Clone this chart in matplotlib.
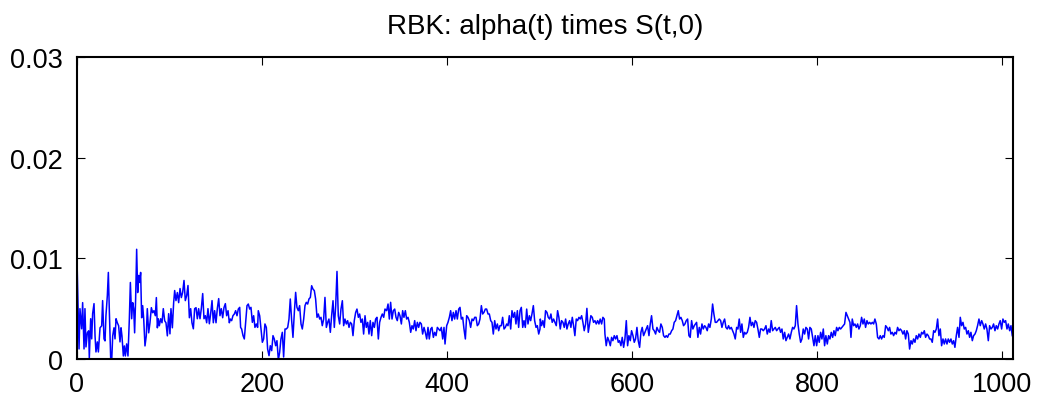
import numpy as np
import matplotlib
matplotlib.use("Agg")
import matplotlib.pyplot as plt

plt.rcParams['font.family'] = ['Liberation Sans', 'DejaVu Sans']

title = "RBK: alpha(t) times S(t,0)"
xticks = [0, 200, 400, 600, 800, 1000]
yticks = [0, 0.01, 0.02, 0.03]
ytick_labels = ["0", "0.01", "0.02", "0.03"]

# sample time (t) and value in units of 1e-3
t_seg1 = [0, 2.2, 3.2, 5.0, 6.1, 7.6, 8.6, 9.7, 11.2, 12.6, 13.3, 14.8, 15.9, 16.9, 18.4, 19.5, 20.5, 22.0, 23.1, 24.9,
          26.7, 27.7, 29.2, 30.3, 31.3, 32.8, 33.9, 34.9, 36.4, 37.5, 38.6, 40.0, 41.1, 42.2, 43.6, 45.0, 46.5, 47.6, 48.6, 50.1,
          51.2, 52.3, 53.7, 55.1, 56.6, 57.7, 59.1, 60.2, 61.3, 62.3, 63.4, 64.5, 65.6, 66.7, 67.8, 68.8, 69.9, 71.0, 72.1, 73.5,
          74.9, 76.0, 77.5, 78.9, 80.4, 81.8, 83.2, 84.7, 85.8, 86.9, 87.9, 89.0, 90.5, 91.9, 93.3, 94.8, 96.2, 97.7, 99.1, 100.5,
          101.6, 103.1, 104.5, 105.6, 107.0, 108.5, 109.9, 111.4, 112.8, 114.2, 115.7, 117.1, 118.6, 120.0, 121.5, 122.9, 124.3, 125.8, 127.2, 128.7,
          130.1, 131.5, 133.0, 134.4, 135.9, 137.3, 138.8, 140.2, 141.6, 143.1, 144.5, 146.0, 147.4, 148.8, 150.3, 151.7, 153.2, 154.6, 156.0, 157.5,
          158.9, 160.4, 161.8, 163.3, 164.7]
v_seg1 = [9.9, 1.0, 5.0, 3.0, 5.6, 1.0, 5.0, 1.2, 2.6, 2.8, 0.1, 4.0, 2.0, 4.5, 5.5, 2.3, 0.7, 1.7, 0.7, 3.1,
          3.3, 5.8, 2.0, 1.8, 4.3, 6.3, 8.6, 5.0, 0.1, -0.2, 2.3, 3.1, 2.0, 4.0, 3.6, 3.3, 1.7, 3.1, 2.3, 0.3,
          1.3, 0.3, 1.5, 0.3, 4.0, 7.6, 4.0, 5.6, 5.0, 2.6, 6.0, 10.9, 6.6, 8.3, 7.6, 8.6, 4.1, 5.3, 4.0, 1.3,
          2.3, 5.0, 2.6, 3.6, 5.1, 4.6, 4.8, 4.3, 6.1, 3.1, 4.0, 3.3, 4.0, 3.6, 5.0, 3.8, 3.6, 2.3, 4.5, 2.5,
          5.0, 3.1, 5.6, 6.8, 5.8, 6.6, 5.6, 7.0, 6.1, 6.6, 7.8, 5.8, 6.3, 7.3, 4.1, 5.0, 3.6, 3.0, 5.0, 5.1,
          4.0, 5.0, 4.0, 5.0, 6.5, 4.0, 4.3, 3.6, 5.0, 3.5, 4.5, 5.8, 3.6, 4.8, 3.6, 5.0, 6.0, 4.3, 5.0, 4.1,
          5.1, 5.5, 4.3, 4.8, 3.6]

t_seg2 = [165.8, 167.2, 168.6, 170.1, 171.5, 173.0, 174.4, 175.9, 176.9, 178.0, 179.5, 180.9, 182.3, 183.8, 185.2, 186.7, 188.1, 189.6, 191.0, 192.4,
          193.9, 195.3, 196.0, 197.5, 198.9, 200.4, 201.8, 203.2, 204.7, 206.1, 207.6, 209.0, 210.5, 211.9, 213.3, 214.8, 216.2, 217.7, 219.1, 220.5,
          222.0, 223.4, 224.9, 226.3, 227.8, 229.2, 230.6, 232.1, 233.5, 235.0, 236.4, 237.8, 239.3, 240.7, 242.2, 243.6, 245.1, 246.5, 247.9, 249.4,
          250.8, 252.3, 253.7, 255.1, 256.6, 258.0, 259.5, 260.9, 262.4, 263.8, 265.2, 266.7, 268.1, 269.6, 271.0, 272.4, 273.9, 275.3, 276.8, 278.2,
          279.7, 281.1, 282.5, 284.0, 285.4, 286.9, 288.3, 289.7, 291.2, 292.6, 294.1, 295.5, 297.0, 298.4, 299.8, 301.3, 302.7, 304.2, 305.6, 307.0,
          308.5, 309.9, 311.4, 312.8, 314.3, 315.7, 317.1, 318.6, 320.0, 321.5, 322.9, 324.3, 325.8, 327.2, 328.7, 330.1, 331.6, 333.0]
v_seg2 = [3.97, 3.81, 4.30, 4.47, 4.80, 4.30, 4.96, 5.13, 3.14, 2.98, 2.32, 1.99, 3.64, 5.30, 5.46, 4.96, 5.13, 3.64, 4.30, 3.14,
          3.48, 3.14, 4.80, 4.30, 2.98, 1.66, 1.99, 3.48, 3.14, 0.99, 0.33, 1.32, 0.83, 2.32, 1.99, 1.32, 1.82, -0.1, 0.66, 1.99,
          2.65, 0.2, 2.98, 2.98, 3.14, 3.97, 5.96, 3.81, 2.15, 4.63, 6.62, 5.13, 4.80, 5.30, 3.48, 2.98, 3.97, 5.30, 5.63, 5.46,
          5.96, 6.12, 7.28, 6.95, 6.79, 5.96, 4.14, 4.47, 3.97, 4.14, 3.31, 3.97, 6.12, 3.14, 3.64, 3.97, 2.65, 4.30, 5.79, 3.14,
          5.30, 8.70, 4.30, 3.48, 4.96, 5.79, 3.31, 3.97, 3.48, 3.81, 3.14, 3.64, 3.48, 2.32, 3.81, 4.63, 4.96, 4.14, 4.47, 3.64,
          3.97, 2.48, 4.30, 3.14, 3.64, 2.48, 3.81, 2.32, 3.64, 3.14, 3.97, 4.14, 1.99, 3.64, 4.14, 4.47, 4.14, 4.96]

t_seg3 = [334.8, 336.3, 337.7, 339.1, 340.6, 342.0, 343.5, 344.9, 346.3, 347.8, 349.2, 350.7, 352.1, 353.5, 355.0, 356.4, 357.9, 359.3, 360.8, 362.2,
          363.6, 365.1, 366.5, 368.0, 369.4, 370.8, 372.3, 373.7, 375.2, 376.6, 378.1, 379.5, 380.9, 382.4, 383.8, 385.3, 386.7, 388.2, 389.6, 391.0,
          392.5, 393.9, 395.4, 396.8, 397.9, 399.7, 401.1, 402.6, 404.0, 405.4, 406.9, 408.3, 409.8, 411.2, 412.7, 414.1, 415.5, 417.0, 418.4, 419.9,
          421.3, 422.7, 424.2, 425.6, 427.1, 428.5, 430.0, 431.4, 432.8, 434.3, 435.7, 437.2, 438.6, 440.0, 441.5, 442.9, 444.4, 445.8, 447.3, 448.7,
          450.1, 451.6, 453.0, 454.5, 455.9, 457.3, 458.8, 460.2, 461.7, 463.1, 464.6, 466.0, 467.4, 468.9, 470.3, 471.8, 473.2, 474.6, 476.1, 477.5,
          479.0, 480.4, 481.9, 483.3, 484.7, 486.2, 487.6, 489.1, 490.5, 491.9, 493.4, 494.8, 496.3, 497.7, 499.2, 500.6]
v_seg3 = [4.80, 5.46, 3.97, 5.63, 3.97, 4.80, 4.96, 4.14, 3.81, 4.63, 4.30, 3.48, 4.80, 4.14, 4.80, 3.97, 4.14, 3.64, 2.65, 3.31,
          2.98, 3.81, 2.81, 3.64, 3.14, 3.64, 3.48, 2.48, 3.14, 2.65, 1.99, 3.14, 1.99, 2.98, 3.14, 2.15, 2.65, 2.32, 3.14, 2.98,
          2.81, 3.14, 1.99, 3.14, 1.49, 3.31, 3.64, 4.14, 4.80, 3.81, 4.63, 3.97, 4.80, 3.97, 4.96, 5.13, 3.97, 4.14, 2.98, 1.99,
          4.30, 4.14, 3.81, 3.14, 3.97, 3.81, 4.14, 4.14, 3.31, 3.48, 3.97, 5.30, 4.47, 4.63, 4.96, 4.96, 4.47, 4.47, 3.81, 3.64,
          2.48, 3.81, 2.98, 3.48, 2.81, 3.31, 3.31, 4.14, 2.98, 3.14, 3.48, 3.31, 4.30, 2.98, 4.80, 4.14, 4.63, 3.48, 4.80, 3.14,
          4.80, 5.13, 3.14, 3.81, 3.14, 4.96, 3.48, 4.30, 3.81, 4.47, 5.30, 3.81, 3.14, 3.31, 2.48, 2.98]

t_seg4 = [500.9, 502.3, 503.7, 505.2, 506.6, 508.1, 509.5, 511.0, 512.4, 513.8, 515.3, 516.7, 518.2, 519.6, 521.0, 522.5, 523.9, 525.4, 526.8, 528.3,
          529.7, 531.1, 532.6, 534.0, 535.5, 536.9, 538.3, 539.8, 541.2, 542.7, 544.1, 545.6, 547.0, 548.4, 549.9, 551.3, 552.8, 554.2, 555.6, 557.1,
          558.5, 560.0, 561.4, 562.9, 564.3, 565.7, 567.2, 568.6, 570.1, 570.8, 572.2, 573.7, 575.1, 576.6, 578.0, 579.4, 580.9, 582.3, 583.8, 585.2,
          586.6, 588.1, 589.5, 591.0, 592.4, 593.9, 595.3, 596.7, 598.2, 599.6, 601.1, 602.5, 603.9, 605.4, 606.8, 608.3, 609.7, 611.1, 612.6, 614.0,
          615.5, 616.9, 618.4, 619.8, 621.2, 622.7, 624.1, 625.6, 627.0, 628.5, 629.9, 631.3, 632.8, 634.2, 635.7, 637.1, 638.5, 640.0, 641.4, 642.9,
          644.3, 645.7, 647.2, 648.6, 650.1, 651.5, 652.9, 654.4, 655.8, 657.3, 658.7, 660.2, 661.6, 663.0, 664.5, 665.9, 667.4]
v_seg4 = [3.97, 3.31, 3.81, 3.14, 4.80, 4.63, 4.14, 3.97, 4.47, 3.64, 3.97, 3.64, 3.31, 4.80, 4.14, 2.98, 3.81, 3.64, 3.14, 3.97,
          2.98, 3.48, 3.81, 3.14, 4.14, 3.31, 2.32, 3.97, 3.81, 4.14, 3.97, 4.30, 3.64, 2.81, 3.48, 5.03, 2.65, 3.48, 4.30, 4.14,
          3.64, 3.81, 3.48, 3.81, 3.48, 3.97, 3.48, 4.14, 3.97, 2.48, 1.32, 2.15, 1.82, 1.32, 2.15, 1.82, 2.32, 1.99, 2.32, 1.66,
          1.82, 1.32, 2.15, 1.16, 1.99, 3.81, 1.32, 2.32, 1.82, 2.81, 2.32, 1.66, 1.99, 3.14, 1.82, 1.16, 2.65, 3.14, 2.32, 2.65,
          2.98, 3.31, 2.32, 3.48, 4.30, 2.98, 2.81, 2.48, 3.14, 2.81, 2.65, 3.48, 3.14, 2.32, 2.15, 2.32, 2.15, 2.48, 2.48, 2.81,
          2.98, 3.64, 3.81, 4.30, 4.80, 3.97, 4.14, 3.81, 3.31, 3.48, 3.81, 3.97, 2.32, 2.15, 3.81, 2.98, 3.31]

t_seg5 = [669.9, 671.3, 672.8, 674.2, 675.7, 677.1, 678.6, 680.0, 681.4, 682.9, 684.3, 685.8, 687.2, 688.6, 690.1, 691.5, 693.0, 694.4, 695.9, 697.3,
          698.7, 700.2, 701.6, 703.1, 704.5, 705.9, 707.4, 708.8, 710.3, 711.7, 713.2, 714.6, 716.0, 717.5, 718.9, 720.4, 721.8, 723.2, 724.7, 726.1,
          727.6, 729.0, 730.5, 731.9, 733.3, 734.8, 736.2, 737.7, 739.1, 740.5, 742.0, 743.4, 744.9, 746.3, 747.8, 749.2, 750.6, 752.1, 753.5, 755.0,
          756.4, 757.8, 759.3, 760.7, 762.2, 763.6, 765.1, 766.5, 767.9, 769.4, 770.8, 772.3, 773.7, 775.1, 776.6, 778.0, 779.5, 780.9, 782.4, 783.8,
          785.2, 786.7, 788.1, 789.6, 791.0, 792.4, 793.9, 795.3, 796.8, 798.2, 799.7, 801.1, 802.5, 804.0, 805.4, 806.9, 808.3, 809.7, 811.2, 812.6,
          814.1, 815.5, 817.0, 818.4, 819.8, 821.3, 822.7, 824.2, 825.6, 827.0, 828.5, 829.9, 831.4, 832.8, 834.3, 835.7]
v_seg5 = [3.64, 2.15, 3.14, 2.48, 3.48, 2.98, 3.31, 3.14, 2.81, 3.48, 3.14, 3.97, 5.46, 4.47, 3.64, 3.64, 3.81, 3.97, 3.81, 3.14,
          3.64, 3.97, 3.14, 2.98, 3.31, 2.98, 3.14, 2.81, 2.48, 1.99, 3.14, 2.98, 3.97, 2.65, 3.48, 2.15, 2.65, 2.48, 2.65, 3.14,
          4.14, 3.31, 3.64, 3.14, 3.81, 3.64, 2.98, 2.15, 2.98, 2.98, 2.81, 2.98, 3.31, 2.48, 2.98, 2.65, 3.81, 2.81, 2.98, 3.14,
          2.81, 2.98, 3.14, 2.65, 2.98, 1.99, 2.65, 1.82, 2.15, 2.48, 1.99, 2.65, 3.14, 2.98, 3.31, 5.30, 3.48, 2.48, 1.66, 1.99,
          2.98, 2.48, 3.14, 2.98, 1.99, 3.14, 2.98, 2.15, 1.32, 2.32, 1.32, 2.32, 1.66, 2.65, 1.99, 2.98, 1.32, 2.32, 1.49, 2.32,
          1.99, 2.65, 2.15, 2.81, 2.32, 3.14, 2.81, 3.14, 2.98, 3.14, 3.31, 3.48, 4.63, 4.30, 3.97, 3.64]

t_seg6 = [836.1, 836.8, 838.2, 839.7, 841.1, 842.6, 844.0, 845.4, 846.9, 848.3, 849.8, 851.2, 852.6, 854.1, 855.5, 857.0, 858.4, 859.9, 861.3, 862.7,
          864.2, 865.6, 867.1, 868.5, 869.9, 871.4, 872.8, 874.3, 875.7, 877.2, 878.6, 880.0, 881.5, 882.9, 884.4, 885.8, 887.2, 888.7, 890.1, 891.6,
          893.0, 894.5, 895.9, 897.3, 898.8, 900.2, 901.7, 903.1, 904.5, 906.0, 907.4, 908.9, 910.3, 911.8, 913.2, 914.6, 916.1, 917.5, 919.0, 920.4,
          921.8, 923.3, 924.7, 926.2, 927.6, 929.1, 930.5, 931.9, 933.4, 934.8, 936.3, 937.7, 939.1, 940.6, 942.0, 943.5, 944.9, 946.4, 947.8, 949.2,
          950.7, 952.1, 953.6, 955.0, 956.4, 957.9, 959.3, 960.8, 962.2, 963.7, 965.1, 966.5, 968.0, 969.4, 970.9, 972.3, 973.7, 975.2, 976.6, 978.1,
          979.5, 980.9, 982.4, 983.8, 985.3, 986.7, 988.2, 989.6, 991.0, 992.5, 993.9, 995.4, 996.8, 998.2, 999.7, 1001.1, 1002.6, 1004.0, 1005.5, 1006.9,
          1008.4, 1009.8, 1011.2]
v_seg6 = [3.14, 2.15, 3.97, 3.31, 3.48, 3.14, 3.48, 2.98, 3.31, 4.14, 3.48, 3.97, 3.14, 3.81, 3.48, 3.64, 3.48, 3.64, 3.48, 3.97,
          3.48, 2.15, 1.99, 2.32, 1.99, 2.32, 2.15, 3.31, 3.14, 2.81, 3.14, 2.48, 2.65, 2.32, 2.65, 2.48, 3.14, 2.81, 2.98, 2.81,
          2.48, 2.81, 1.99, 2.81, 2.48, 0.99, 1.82, 1.49, 1.99, 1.66, 2.32, 1.99, 2.48, 2.15, 2.65, 2.48, 2.81, 2.15, 2.48, 2.32,
          1.99, 1.99, 1.66, 2.81, 2.65, 2.98, 3.97, 2.32, 2.98, 1.32, 1.99, 1.49, 1.99, 1.49, 1.99, 1.66, 1.99, 1.49, 1.82, 1.16,
          2.32, 3.14, 2.15, 4.14, 3.31, 3.64, 2.98, 3.14, 2.48, 2.81, 2.15, 2.65, 1.82, 2.32, 2.48, 2.81, 3.31, 3.97, 3.31, 3.81,
          3.48, 2.98, 3.48, 2.98, 1.82, 3.31, 2.98, 3.14, 3.48, 2.81, 3.31, 2.98, 3.48, 3.81, 2.98, 3.97, 3.64, 3.81, 2.98, 3.48,
          2.81, 3.31, 2.32]

t = np.concatenate([t_seg1, t_seg2, t_seg3, t_seg4, t_seg5, t_seg6])
v = np.concatenate([v_seg1, v_seg2, v_seg3, v_seg4, v_seg5, v_seg6]) * 1e-3

fig = plt.figure(figsize=(10.42, 4.06), dpi=100)
ax = fig.add_axes([77/1042, 1 - 360/406, (1013 - 77)/1042, (360 - 58)/406])
ax.plot(t, v, color='#0000FF', linewidth=1.1)
ax.set_xlim(0, 1012)
ax.set_ylim(0, 0.03)
ax.set_xticks(xticks)
ax.set_xticklabels([str(x) for x in xticks])
ax.set_yticks(yticks)
ax.set_yticklabels(ytick_labels)
ax.tick_params(direction='in', top=True, right=True, length=6, width=0.8,
               labelsize=19.5, colors='black')
ax.tick_params(axis='y', pad=10)
ax.tick_params(axis='x', pad=9)
for s in ax.spines.values():
    s.set_linewidth(1.5)
ax.set_title(title, fontsize=20, pad=17)
fig.savefig("out.png", dpi=100)
